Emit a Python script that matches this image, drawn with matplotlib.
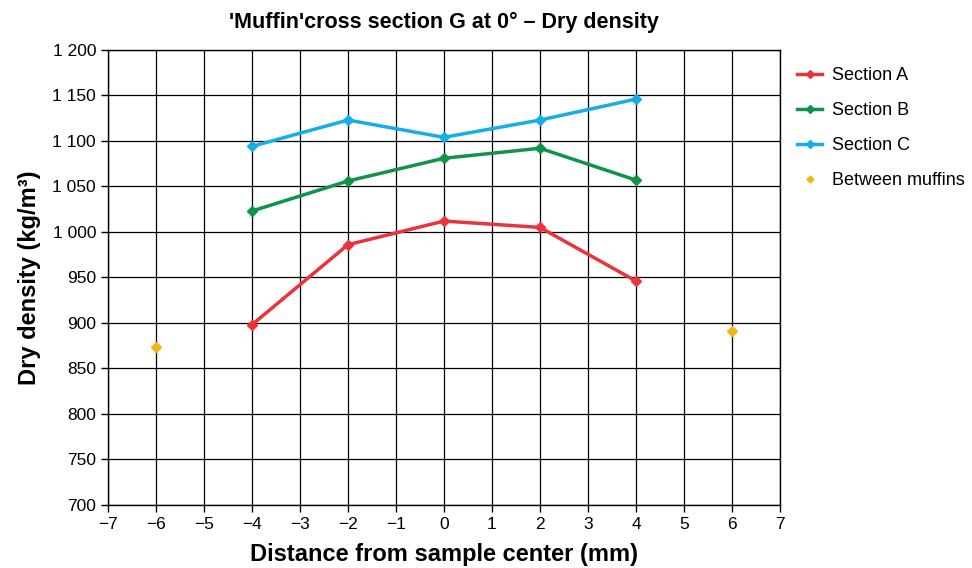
import matplotlib
matplotlib.use("Agg")
import matplotlib.pyplot as plt
from matplotlib.ticker import FuncFormatter, MultipleLocator

plt.rcParams["font.family"] = ["Liberation Sans", "DejaVu Sans"]
plt.rcParams["axes.unicode_minus"] = True

# dry density per measurement position (kg/m3)
positions = [-4, -2, 0, 2, 4]
section_a = [898, 986, 1012, 1005, 946]
section_b = [1023, 1056, 1081, 1092, 1057]
section_c = [1094, 1123, 1104, 1123, 1146]
between_x = [-6, 6]
between_y = [874, 891]

fig = plt.figure(figsize=(9.72, 5.68), dpi=100)
ax = fig.add_axes([0.111, 0.111, 0.6915, 0.801])

line_kw = dict(linewidth=2.5, marker="D", markersize=5.5)
ax.plot(positions, section_a, color="#e8343a", label="Section A", **line_kw)
ax.plot(positions, section_b, color="#10934a", label="Section B", **line_kw)
ax.plot(positions, section_c, color="#14aee8", label="Section C", **line_kw)
ax.plot(between_x, between_y, linestyle="none", marker="D", markersize=5,
        color="#f7b417", label="Between muffins")

ax.set_xlim(-7, 7)
ax.set_ylim(700, 1200)
ax.xaxis.set_major_locator(MultipleLocator(1))
ax.yaxis.set_major_locator(MultipleLocator(50))
ax.yaxis.set_major_formatter(
    FuncFormatter(lambda v, _: f"{int(v):,}".replace(",", " ")))
ax.xaxis.set_major_formatter(
    FuncFormatter(lambda v, _: f"{int(v)}".replace("-", "\u2212")))

ax.grid(True, color="black", linewidth=0.9)
ax.set_axisbelow(True)
for spine in ax.spines.values():
    spine.set_linewidth(1.0)
ax.tick_params(direction="out", length=5, width=1, labelsize=12.5)

ax.set_title("'Muffin'cross section G at 0\u00b0 \u2013 Dry density",
             fontsize=15.5, fontweight="bold", pad=16)
ax.set_xlabel("Distance from sample center (mm)", fontsize=17,
              fontweight="bold", labelpad=8)
ax.set_ylabel("Dry density (kg/m\u00b3)", fontsize=17,
              fontweight="bold", labelpad=8)

ax.legend(loc="upper left", bbox_to_anchor=(1.0, 1.0), frameon=False,
          fontsize=13, handlelength=1.4, handletextpad=0.55,
          labelspacing=1.0, borderaxespad=0.55, markerscale=0.7)

fig.savefig("out.png", dpi=100)
